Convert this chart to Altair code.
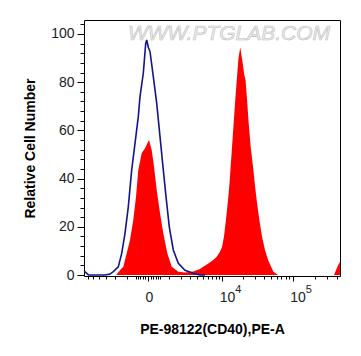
import altair as alt
import pandas as pd

# PE-A fluorescence values (symlog / biexponential axis) and relative cell number
red_x = [-6900, -2260, -1860, -1683, -1515, -1260, -1023, -817, -631, -492, -383, -235, -106, 34,
         132, 223, 338, 492, 663, 896, 1188, 1709, 2361, 3385, 4429, 5030, 6068, 7283, 8226, 9241,
         9909, 10621, 11380, 12187, 12827, 13728, 14688, 15710, 16519, 17367, 18440, 19191, 19971,
         21055, 21905, 23013, 24175, 25980, 28006, 29894, 31902, 34370, 37508, 41320, 45946, 50109,
         53941, 58813, 63296, 369155, 393128, 418716, 445000]
red_y = [0, 0, 0, 1.0, 2.0, 3.4, 9, 14.5, 22.8, 32.5, 43.6, 50.5, 52.6, 56,
         51.9, 45, 35.3, 25.6, 17.3, 9, 3.4, 1.4, 1.1, 1.5, 2.5, 3.4, 4.8, 6.2, 7.6, 9.7,
         11.5, 16, 23, 31, 38, 50, 62, 74, 82, 90, 94.5, 91, 88,
         83, 81, 73, 64, 53, 45, 37, 30, 23, 16, 10.4, 6, 3.5,
         1.5, 0.5, 0, 0, 2, 4, 5.5]

blue_x = [-6900, -6460, -5891, -3074, -2471, -2122, -1657, -1381, -1139, -921, -719, -542, -383,
          -307, -171, -81, -45, 10, 70, 195, 338, 492, 663, 817, 1023, 1304, 1709, 2361, 3385,
          4429, 5364]
blue_y = [1.6, 1.0, 0, 0, 0.4, 1.4, 3.4, 9, 17.3, 28.3, 43.6, 54.6, 65.7,
          74, 83.7, 96, 97.5, 94.5, 92.7, 82.3, 71.2, 57.4, 43.6, 32.5, 20, 10.4, 4.9, 2, 0.7,
          0, 0]

x_major_ticks = [0, 10000, 100000]
x_major_labels = ["0", "10", "10"]
x_exponent_ticks = [10000, 100000]
x_exponent_labels = ["4", "5"]
x_minor_ticks = [-6000, -5000, -4000, -3000, -2000, -1000, -500, -400, -300, -200, -100,
                 100, 200, 300, 400, 500, 1000, 2000, 3000, 4000, 5000, 6000, 7000, 8000, 9000,
                 20000, 30000, 40000, 50000, 60000, 70000, 80000, 90000, 200000, 300000, 400000]
y_ticks = list(range(0, 105, 4))
y_major_step = 20
watermark = "WWW.PTGLAB.COM"

red_df = pd.DataFrame({"x": red_x, "y": red_y})
blue_df = pd.DataFrame({"x": blue_x, "y": blue_y})
exp_df = pd.DataFrame({"x": x_exponent_ticks, "label": x_exponent_labels})
wm_df = pd.DataFrame({"t": [watermark]})

x_scale = alt.Scale(type="symlog", constant=1075, domain=[-6950, 446000], nice=False)
y_scale = alt.Scale(domain=[-0.4, 105.8], nice=False, zero=False)

major_test = "indexof([" + ",".join(str(v) for v in x_major_ticks) + "], datum.value) >= 0"
label_expr = " : ".join(
    f"datum.value == {v} ? '{l}'" for v, l in zip(x_major_ticks, x_major_labels)
) + " : ''"

x_axis = alt.Axis(
    values=x_minor_ticks + x_major_ticks,
    labelExpr=label_expr,
    tickSize={"condition": {"test": major_test, "value": 5}, "value": 3},
    labelAlign="left", labelOffset=-3, labelBaseline="top", labelPadding=9,
    labelFontSize=14, labelOverlap=False, labelFlush=False,
    title="PE-98122(CD40),PE-A", titleFontSize=14, titleFontWeight="bold",
    titleX=128, titleY=57, titleBaseline="alphabetic", titleAlign="center",
)
y_axis = alt.Axis(
    values=y_ticks,
    labelExpr=f"datum.value % {y_major_step} == 0 ? datum.label : ''",
    tickSize={"condition": {"test": f"datum.value % {y_major_step} == 0", "value": 7}, "value": 4},
    labelPadding=3, labelFontSize=14, labelOverlap=False,
    title="Relative Cell Number", titleFontSize=14, titleFontWeight="bold",
    titleAngle=270, titleX=-50, titleY=128, titleBaseline="alphabetic", titleAlign="center",
)

X = alt.X("x:Q", scale=x_scale, axis=x_axis)
Y = alt.Y("y:Q", scale=y_scale, axis=y_axis)

red = alt.Chart(red_df).mark_area(color="#ff0000", interpolate="linear").encode(x=X, y=Y)
blue = alt.Chart(blue_df).mark_line(color="#14148c", strokeWidth=1.6).encode(x=X, y=Y)
exps = alt.Chart(exp_df).mark_text(
    align="left", baseline="top", dx=13, fontSize=11, font="Liberation Sans", color="#222"
).encode(x=X, y=alt.value(264), text="label:N")
wm = alt.Chart(wm_df).mark_text(
    align="center", baseline="middle", fontSize=21, fontStyle="italic", font="Liberation Sans",
    fill="#efefef", stroke="#bdbdbd", strokeWidth=0.6
).encode(x=alt.value(145), y=alt.value(14), text="t:N")

chart = alt.layer(wm, red, blue, exps).properties(
    width=256, height=256,
    padding={"left": 76, "top": 12, "right": 13, "bottom": 70},
    autosize=alt.AutoSizeParams(type="none"),
).configure_view(stroke="black", strokeWidth=1).configure_axis(
    domain=False, grid=False, tickColor="black", tickWidth=1,
    labelFont="Liberation Sans", titleFont="Liberation Sans",
    labelColor="#222", titleColor="black",
)

chart.save("out.html", embed_options={"renderer": "svg", "actions": False})
